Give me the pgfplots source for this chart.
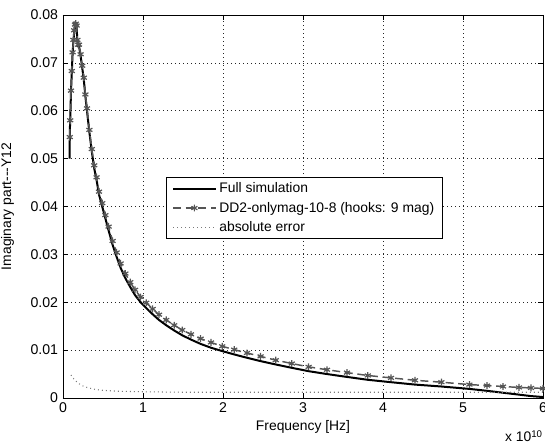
\documentclass[border=0pt]{standalone}
\usepackage{fontspec}
\setmainfont{Liberation Sans}
\usepackage{pgfplots}
\pgfplotsset{compat=1.18}
\definecolor{ddgray}{HTML}{555555}
\definecolor{errgray}{HTML}{7A7A7A}

% frequency in units of 1e10 Hz
\pgfplotstableread{
x      full     dd2
0.083  0.0500   nan
0.085  0.0555   0.0545
0.09   0.0580   0.0580
0.10   0.0640   0.0642
0.11   0.0680   0.0683
0.12   0.0720   0.0722
0.13   0.0745   0.0748
0.14   0.0765   0.0768
0.15   0.0777   0.0780
0.16   0.0780   0.0782
0.17   0.0775   0.0778
0.18   0.0745   0.0748
0.19   0.0735   0.0738
0.20   0.0735   0.0738
0.22   0.0715   0.0718
0.24   0.0690   0.0694
0.26   0.0665   0.0669
0.28   0.0630   0.0634
0.30   0.0600   0.0605
0.33   0.0555   0.0560
0.36   0.0515   0.0520
0.39   0.0480   0.0486
0.42   0.0455   0.0461
0.45   0.0425   0.0431
0.49   0.0400   0.0407
0.53   0.0375   0.0382
0.57   0.0350   0.0358
0.62   0.0320   0.0328
0.67   0.0295   0.0304
0.72   0.0272   0.0281
0.78   0.0250   0.0260
0.84   0.0232   0.0242
0.90   0.0215   0.0226
0.97   0.0200   0.0211
1.04   0.0188   0.0199
1.12   0.0175   0.0186
1.20   0.0163   0.0174
1.29   0.0152   0.0163
1.39   0.0141   0.0152
1.49   0.0131   0.0142
1.60   0.0122   0.0133
1.72   0.0113   0.0124
1.85   0.0105   0.0116
1.99   0.0098   0.0108
2.14   0.0091   0.0101
2.30   0.0084   0.0094
2.47   0.0077   0.0087
2.66   0.0070   0.0079
2.86   0.0063   0.0072
3.07   0.0056   0.0065
3.30   0.0050   0.0059
3.55   0.0044   0.0053
3.81   0.0038   0.0047
4.10   0.0033   0.0042
4.40   0.0028   0.0037
4.73   0.0024   0.0033
5.08   0.0019   0.0028
5.30   0.0015   0.0026
5.50   0.0011   0.0024
5.70   0.0007   0.0022
5.85   0.0004   0.0021
6.00   0.0002   0.0020
}\simdata

\pgfplotstableread{
x     err
0.10  0.0048
0.12  0.0043
0.15  0.0037
0.20  0.0030
0.25  0.0025
0.30  0.0022
0.40  0.0018
0.50  0.0016
0.70  0.0014
1.00  0.0013
1.50  0.0012
2.00  0.0012
3.00  0.0012
4.00  0.0012
5.00  0.0012
6.00  0.0012
}\errdata

\begin{document}
\fontsize{10.4}{12.5}\selectfont
\begin{tikzpicture}
\begin{axis}[name=ax, scale only axis, width=360pt, height=287.25pt,
  xmin=0, xmax=6, ymin=0, ymax=0.08,
  scaled x ticks=false, scaled y ticks=false,
  xtick={0,1,2,3,4,5,6}, xticklabels={0,1,2,3,4,5,6},
  ytick={0,0.01,0.02,0.03,0.04,0.05,0.06,0.07,0.08},
  yticklabels={0,0.01,0.02,0.03,0.04,0.05,0.06,0.07,0.08},
  /pgf/number format/assume math mode=true,
  tick align=inside, major tick length=3.75pt,
  tick style={black, line width=0.5pt},
  axis line style={black, line width=0.6pt},
  grid=major, grid style={black!85, line width=0.5pt, dash pattern=on 0.6pt off 2.4pt},
  tick label style={font=\fontsize{10.6}{12.5}\selectfont},
  xlabel={Frequency [Hz]},
  xlabel style={at={(axis description cs:0.5,0)}, anchor=base, yshift=-24.75pt},
  ylabel={Imaginary part-{}-{}-Y12},
  ylabel style={at={(axis description cs:-0.0917,0.5)}, anchor=south, rotate=0},
  legend style={at={(0.503,0.496)}, anchor=center, draw=black, line width=0.6pt,
    font=\fontsize{10.4}{12.5}\selectfont, cells={anchor=west},
    row sep=1.2pt, inner xsep=4pt, inner ysep=2pt},
  legend image code/.code={\draw[mark repeat=2, mark phase=2, #1] plot coordinates {(0pt,0pt) (16pt,0pt) (32pt,0pt)};},
  unbounded coords=discard,
]
\addplot[black, line width=1.5pt] table[x=x, y=full] {\simdata};
\addlegendentry{Full simulation}
\addplot[ddgray, line width=1.1pt, dash pattern=on 6pt off 3.5pt, mark=asterisk, mark size=2.6pt,
  mark options={solid, line width=0.9pt}] table[x=x, y=dd2] {\simdata};
\addlegendentry{DD2-onlymag-10-8 (hooks: 9 mag)}
\addplot[errgray, line width=0.8pt, dash pattern=on 0.7pt off 2.3pt] table[x=x, y=err] {\errdata};
\addlegendentry{absolute error}
\end{axis}
\node[anchor=base east, inner sep=0pt] at ([yshift=-33pt]ax.south east) {x 10\textsuperscript{10}};
\pgfresetboundingbox
\path[use as bounding box] ([xshift=-47.25pt, yshift=-34.5pt]ax.south west) rectangle ([xshift=1.5pt, yshift=11.25pt]ax.north east);
\end{tikzpicture}
\end{document}
